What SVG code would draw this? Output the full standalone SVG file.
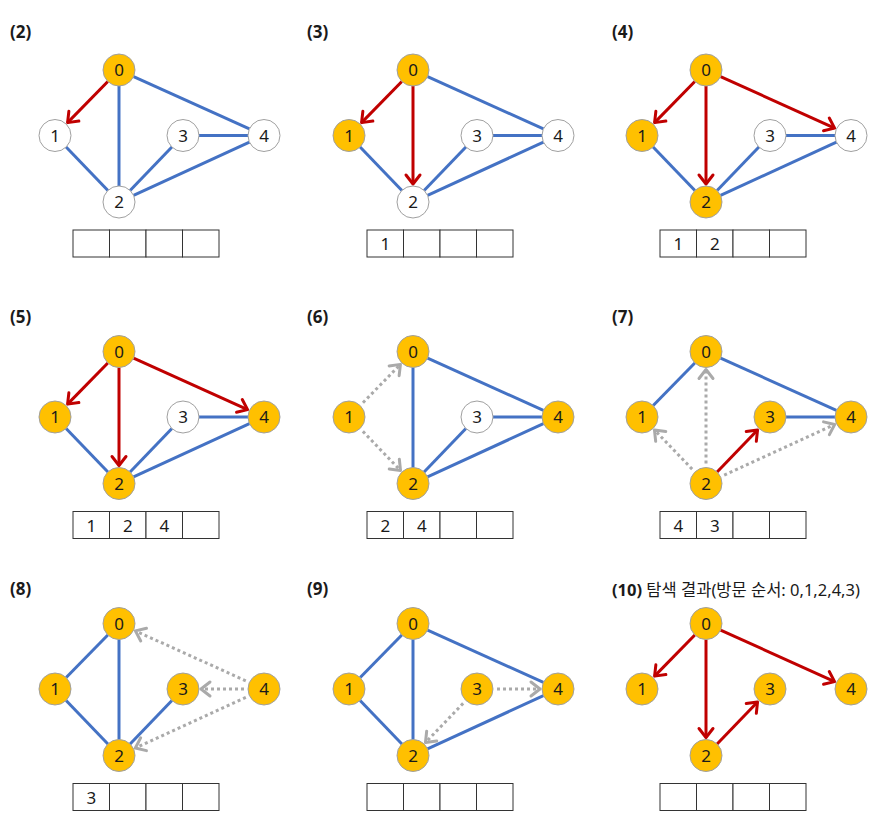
<svg xmlns="http://www.w3.org/2000/svg" width="878" height="825" viewBox="0 0 878 825">
<style>
text{font-family:"Noto Sans","Noto Sans CJK KR",sans-serif;fill:#1a1a1a}
.t{font-size:17px;font-weight:bold}
.n text,.q text{font-size:17px;text-anchor:middle}
.v{fill:#FFC000;stroke:#A0A0A0;stroke-width:1}
.u{fill:#FFFFFF;stroke:#A0A0A0;stroke-width:1}
.e{stroke:#4472C4;stroke-width:3;fill:none}
.r{stroke:#C00000;stroke-width:3;fill:none;marker-end:url(#ar)}
.g{stroke:#AAAAAA;stroke-width:3;fill:none;stroke-dasharray:3 3;marker-end:url(#ag)}
</style>
<defs>
<marker id="ar" markerUnits="userSpaceOnUse" viewBox="-12 -9 14 18" refX="0" refY="0" markerWidth="14" markerHeight="18" orient="auto" overflow="visible">
<path d="M-9,-7 L0,0 L-9,7" fill="none" stroke="#C00000" stroke-width="3" stroke-linecap="round" stroke-linejoin="round"/>
</marker>
<marker id="ag" markerUnits="userSpaceOnUse" viewBox="-12 -9 14 18" refX="0" refY="0" markerWidth="14" markerHeight="18" orient="auto" overflow="visible">
<path d="M-9,-7 L0,0 L-9,7" fill="none" stroke="#AAAAAA" stroke-width="3" stroke-linecap="round" stroke-linejoin="round"/>
</marker>
<g id="qbox" fill="#FFFFFF" stroke="#333333" stroke-width="1">
<rect x="-46" y="160" width="36.5" height="27"/>
<rect x="-9.5" y="160" width="36.5" height="27"/>
<rect x="27" y="160" width="36.5" height="27"/>
<rect x="63.5" y="160" width="36.5" height="27"/>
</g>
</defs>

<!-- labels -->
<text class="t" x="10" y="38">(2)</text>
<text class="t" x="307" y="38">(3)</text>
<text class="t" x="612" y="38">(4)</text>
<text class="t" x="10" y="323">(5)</text>
<text class="t" x="307" y="323">(6)</text>
<text class="t" x="612" y="323">(7)</text>
<text class="t" x="10" y="595">(8)</text>
<text class="t" x="307" y="595">(9)</text>
<text x="612" y="596" style="font-size:16.5px"><tspan font-weight="bold">(10)</tspan> 탐색 결과(방문 순서: 0,1,2,4,3)</text>

<!-- panel 2 -->
<g id="panel-2" transform="translate(119,70)">
<g id="p2-edges">
<line class="e" x1="0" y1="16" x2="0" y2="116"/>
<line class="e" x1="14.58" y1="6.59" x2="130.42" y2="58.91"/>
<line class="e" x1="-52.9" y1="77.03" x2="-11.1" y2="120.47"/>
<line class="e" x1="11.1" y1="120.47" x2="52.9" y2="77.03"/>
<line class="e" x1="80" y1="65.5" x2="129" y2="65.5"/>
<line class="e" x1="14.54" y1="125.33" x2="130.46" y2="72.17"/>
<line class="r" x1="-11.18" y1="11.44" x2="-51.42" y2="52.63"/>
</g>
<g id="p2-n0" class="n"><circle class="v" cx="0" cy="0" r="16"/><text x="0" y="6">0</text></g>
<g id="p2-n1" class="n"><circle class="u" cx="-64" cy="65.5" r="16"/><text x="-64" y="71.5">1</text></g>
<g id="p2-n2" class="n"><circle class="u" cx="0" cy="132" r="16"/><text x="0" y="138">2</text></g>
<g id="p2-n3" class="n"><circle class="u" cx="64" cy="65.5" r="16"/><text x="64" y="71.5">3</text></g>
<g id="p2-n4" class="n"><circle class="u" cx="145" cy="65.5" r="16"/><text x="145" y="71.5">4</text></g>
<g id="p2-queue" class="q"><use href="#qbox"/></g>
</g>

<!-- panel 3 -->
<g id="panel-3" transform="translate(413,70)">
<g id="p3-edges">
<line class="e" x1="14.58" y1="6.59" x2="130.42" y2="58.91"/>
<line class="e" x1="-52.9" y1="77.03" x2="-11.1" y2="120.47"/>
<line class="e" x1="11.1" y1="120.47" x2="52.9" y2="77.03"/>
<line class="e" x1="80" y1="65.5" x2="129" y2="65.5"/>
<line class="e" x1="14.54" y1="125.33" x2="130.46" y2="72.17"/>
<line class="r" x1="-11.18" y1="11.44" x2="-51.42" y2="52.63"/>
<line class="r" x1="0" y1="16" x2="0" y2="114"/>
</g>
<g id="p3-n0" class="n"><circle class="v" cx="0" cy="0" r="16"/><text x="0" y="6">0</text></g>
<g id="p3-n1" class="n"><circle class="v" cx="-64" cy="65.5" r="16"/><text x="-64" y="71.5">1</text></g>
<g id="p3-n2" class="n"><circle class="u" cx="0" cy="132" r="16"/><text x="0" y="138">2</text></g>
<g id="p3-n3" class="n"><circle class="u" cx="64" cy="65.5" r="16"/><text x="64" y="71.5">3</text></g>
<g id="p3-n4" class="n"><circle class="u" cx="145" cy="65.5" r="16"/><text x="145" y="71.5">4</text></g>
<g id="p3-queue" class="q"><use href="#qbox"/><text x="-27.75" y="180">1</text></g>
</g>

<!-- panel 4 -->
<g id="panel-4" transform="translate(706,70)">
<g id="p4-edges">
<line class="e" x1="-52.9" y1="77.03" x2="-11.1" y2="120.47"/>
<line class="e" x1="11.1" y1="120.47" x2="52.9" y2="77.03"/>
<line class="e" x1="80" y1="65.5" x2="129" y2="65.5"/>
<line class="e" x1="14.54" y1="125.33" x2="130.46" y2="72.17"/>
<line class="r" x1="-11.18" y1="11.44" x2="-51.42" y2="52.63"/>
<line class="r" x1="0" y1="16" x2="0" y2="114"/>
<line class="r" x1="14.58" y1="6.59" x2="128.59" y2="58.09"/>
</g>
<g id="p4-n0" class="n"><circle class="v" cx="0" cy="0" r="16"/><text x="0" y="6">0</text></g>
<g id="p4-n1" class="n"><circle class="v" cx="-64" cy="65.5" r="16"/><text x="-64" y="71.5">1</text></g>
<g id="p4-n2" class="n"><circle class="v" cx="0" cy="132" r="16"/><text x="0" y="138">2</text></g>
<g id="p4-n3" class="n"><circle class="u" cx="64" cy="65.5" r="16"/><text x="64" y="71.5">3</text></g>
<g id="p4-n4" class="n"><circle class="u" cx="145" cy="65.5" r="16"/><text x="145" y="71.5">4</text></g>
<g id="p4-queue" class="q"><use href="#qbox"/><text x="-27.75" y="180">1</text><text x="8.75" y="180">2</text></g>
</g>

<!-- panel 5 -->
<g id="panel-5" transform="translate(119,351.5)">
<g id="p5-edges">
<line class="e" x1="-52.9" y1="77.03" x2="-11.1" y2="120.47"/>
<line class="e" x1="11.1" y1="120.47" x2="52.9" y2="77.03"/>
<line class="e" x1="80" y1="65.5" x2="129" y2="65.5"/>
<line class="e" x1="14.54" y1="125.33" x2="130.46" y2="72.17"/>
<line class="r" x1="-11.18" y1="11.44" x2="-51.42" y2="52.63"/>
<line class="r" x1="0" y1="16" x2="0" y2="114"/>
<line class="r" x1="14.58" y1="6.59" x2="128.59" y2="58.09"/>
</g>
<g id="p5-n0" class="n"><circle class="v" cx="0" cy="0" r="16"/><text x="0" y="6">0</text></g>
<g id="p5-n1" class="n"><circle class="v" cx="-64" cy="65.5" r="16"/><text x="-64" y="71.5">1</text></g>
<g id="p5-n2" class="n"><circle class="v" cx="0" cy="132" r="16"/><text x="0" y="138">2</text></g>
<g id="p5-n3" class="n"><circle class="u" cx="64" cy="65.5" r="16"/><text x="64" y="71.5">3</text></g>
<g id="p5-n4" class="n"><circle class="v" cx="145" cy="65.5" r="16"/><text x="145" y="71.5">4</text></g>
<g id="p5-queue" class="q"><use href="#qbox"/><text x="-27.75" y="180">1</text><text x="8.75" y="180">2</text><text x="45.25" y="180">4</text></g>
</g>

<!-- panel 6 -->
<g id="panel-6" transform="translate(413,351.5)">
<g id="p6-edges">
<line class="e" x1="0" y1="16" x2="0" y2="116"/>
<line class="e" x1="14.58" y1="6.59" x2="130.42" y2="58.91"/>
<line class="e" x1="11.1" y1="120.47" x2="52.9" y2="77.03"/>
<line class="e" x1="80" y1="65.5" x2="129" y2="65.5"/>
<line class="e" x1="14.54" y1="125.33" x2="130.46" y2="72.17"/>
<line class="g" x1="-50.02" y1="51.2" x2="-12.58" y2="12.87"/>
<line class="g" x1="-50.13" y1="79.91" x2="-12.48" y2="119.03"/>
</g>
<g id="p6-n0" class="n"><circle class="v" cx="0" cy="0" r="16"/><text x="0" y="6">0</text></g>
<g id="p6-n1" class="n"><circle class="v" cx="-64" cy="65.5" r="16"/><text x="-64" y="71.5">1</text></g>
<g id="p6-n2" class="n"><circle class="v" cx="0" cy="132" r="16"/><text x="0" y="138">2</text></g>
<g id="p6-n3" class="n"><circle class="u" cx="64" cy="65.5" r="16"/><text x="64" y="71.5">3</text></g>
<g id="p6-n4" class="n"><circle class="v" cx="145" cy="65.5" r="16"/><text x="145" y="71.5">4</text></g>
<g id="p6-queue" class="q"><use href="#qbox"/><text x="-27.75" y="180">2</text><text x="8.75" y="180">4</text></g>
</g>

<!-- panel 7 -->
<g id="panel-7" transform="translate(706,351.5)">
<g id="p7-edges">
<line class="e" x1="-11.18" y1="11.44" x2="-52.82" y2="54.06"/>
<line class="e" x1="14.58" y1="6.59" x2="130.42" y2="58.91"/>
<line class="e" x1="80" y1="65.5" x2="129" y2="65.5"/>
<line class="g" x1="-13.87" y1="117.59" x2="-51.52" y2="78.47"/>
<line class="g" x1="0" y1="112" x2="0" y2="18"/>
<line class="g" x1="18.18" y1="123.66" x2="128.64" y2="73"/>
<line class="r" x1="11.1" y1="120.47" x2="51.52" y2="78.47"/>
</g>
<g id="p7-n0" class="n"><circle class="v" cx="0" cy="0" r="16"/><text x="0" y="6">0</text></g>
<g id="p7-n1" class="n"><circle class="v" cx="-64" cy="65.5" r="16"/><text x="-64" y="71.5">1</text></g>
<g id="p7-n2" class="n"><circle class="v" cx="0" cy="132" r="16"/><text x="0" y="138">2</text></g>
<g id="p7-n3" class="n"><circle class="v" cx="64" cy="65.5" r="16"/><text x="64" y="71.5">3</text></g>
<g id="p7-n4" class="n"><circle class="v" cx="145" cy="65.5" r="16"/><text x="145" y="71.5">4</text></g>
<g id="p7-queue" class="q"><use href="#qbox"/><text x="-27.75" y="180">4</text><text x="8.75" y="180">3</text></g>
</g>

<!-- panel 8 -->
<g id="panel-8" transform="translate(119,623.5)">
<g id="p8-edges">
<line class="e" x1="-11.18" y1="11.44" x2="-52.82" y2="54.06"/>
<line class="e" x1="0" y1="16" x2="0" y2="116"/>
<line class="e" x1="-52.9" y1="77.03" x2="-11.1" y2="120.47"/>
<line class="e" x1="11.1" y1="120.47" x2="52.9" y2="77.03"/>
<line class="g" x1="126.77" y1="57.27" x2="16.41" y2="7.41"/>
<line class="g" x1="125" y1="65.5" x2="82" y2="65.5"/>
<line class="g" x1="126.82" y1="73.84" x2="16.36" y2="124.5"/>
</g>
<g id="p8-n0" class="n"><circle class="v" cx="0" cy="0" r="16"/><text x="0" y="6">0</text></g>
<g id="p8-n1" class="n"><circle class="v" cx="-64" cy="65.5" r="16"/><text x="-64" y="71.5">1</text></g>
<g id="p8-n2" class="n"><circle class="v" cx="0" cy="132" r="16"/><text x="0" y="138">2</text></g>
<g id="p8-n3" class="n"><circle class="v" cx="64" cy="65.5" r="16"/><text x="64" y="71.5">3</text></g>
<g id="p8-n4" class="n"><circle class="v" cx="145" cy="65.5" r="16"/><text x="145" y="71.5">4</text></g>
<g id="p8-queue" class="q"><use href="#qbox"/><text x="-27.75" y="180">3</text></g>
</g>

<!-- panel 9 -->
<g id="panel-9" transform="translate(413,623.5)">
<g id="p9-edges">
<line class="e" x1="-11.18" y1="11.44" x2="-52.82" y2="54.06"/>
<line class="e" x1="0" y1="16" x2="0" y2="116"/>
<line class="e" x1="-52.9" y1="77.03" x2="-11.1" y2="120.47"/>
<line class="e" x1="14.58" y1="6.59" x2="130.42" y2="58.91"/>
<line class="e" x1="14.54" y1="125.33" x2="130.46" y2="72.17"/>
<line class="g" x1="84" y1="65.5" x2="127" y2="65.5"/>
<line class="g" x1="50.13" y1="79.91" x2="12.48" y2="119.03"/>
</g>
<g id="p9-n0" class="n"><circle class="v" cx="0" cy="0" r="16"/><text x="0" y="6">0</text></g>
<g id="p9-n1" class="n"><circle class="v" cx="-64" cy="65.5" r="16"/><text x="-64" y="71.5">1</text></g>
<g id="p9-n2" class="n"><circle class="v" cx="0" cy="132" r="16"/><text x="0" y="138">2</text></g>
<g id="p9-n3" class="n"><circle class="v" cx="64" cy="65.5" r="16"/><text x="64" y="71.5">3</text></g>
<g id="p9-n4" class="n"><circle class="v" cx="145" cy="65.5" r="16"/><text x="145" y="71.5">4</text></g>
<g id="p9-queue" class="q"><use href="#qbox"/></g>
</g>

<!-- panel 10 -->
<g id="panel-10" transform="translate(706,623.5)">
<g id="p10-edges">
<line class="r" x1="-11.18" y1="11.44" x2="-51.42" y2="52.63"/>
<line class="r" x1="0" y1="16" x2="0" y2="114"/>
<line class="r" x1="14.58" y1="6.59" x2="128.59" y2="58.09"/>
<line class="r" x1="11.1" y1="120.47" x2="51.52" y2="78.47"/>
</g>
<g id="p10-n0" class="n"><circle class="v" cx="0" cy="0" r="16"/><text x="0" y="6">0</text></g>
<g id="p10-n1" class="n"><circle class="v" cx="-64" cy="65.5" r="16"/><text x="-64" y="71.5">1</text></g>
<g id="p10-n2" class="n"><circle class="v" cx="0" cy="132" r="16"/><text x="0" y="138">2</text></g>
<g id="p10-n3" class="n"><circle class="v" cx="64" cy="65.5" r="16"/><text x="64" y="71.5">3</text></g>
<g id="p10-n4" class="n"><circle class="v" cx="145" cy="65.5" r="16"/><text x="145" y="71.5">4</text></g>
<g id="p10-queue" class="q"><use href="#qbox"/></g>
</g>
</svg>
